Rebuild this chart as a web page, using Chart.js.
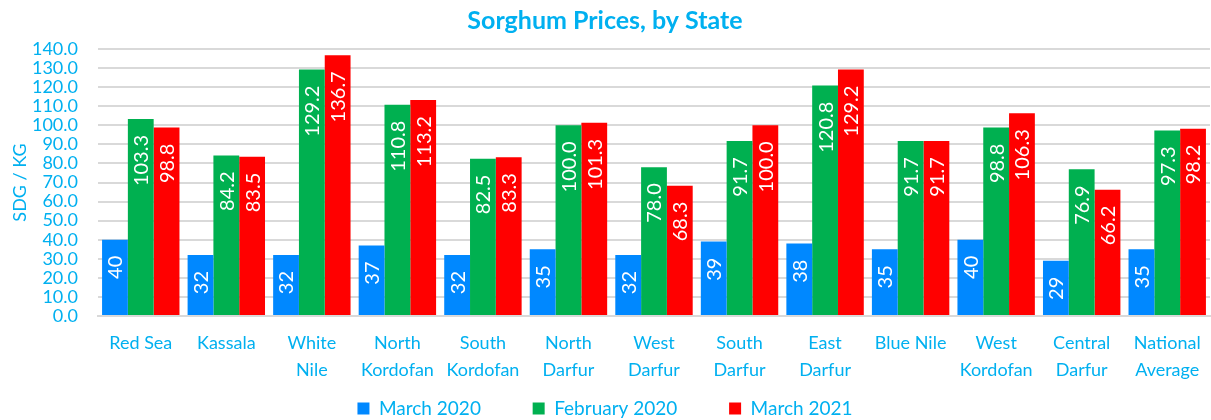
<!DOCTYPE html>
<html>
<head>
<meta charset="utf-8">
<script src="https://cdn.jsdelivr.net/npm/chart.js@4.4.1/dist/chart.umd.min.js"></script>
<style>
  html, body { margin: 0; padding: 0; background: #ffffff; }
  #wrap { width: 1211px; height: 420px; }
</style>
</head>
<body>
<div id="wrap"><canvas id="c" width="1211" height="420"></canvas></div>
<script>
const categories = [
  "Red Sea", "Kassala", ["White", "Nile"], ["North", "Kordofan"], ["South", "Kordofan"],
  ["North", "Darfur"], ["West", "Darfur"], ["South", "Darfur"], ["East", "Darfur"],
  "Blue Nile", ["West", "Kordofan"], ["Central", "Darfur"], ["National", "Average"]
];
const march2020 = [40, 32, 32, 37, 32, 35, 32, 39, 38, 35, 40, 29, 35];
const february2020 = [103.3, 84.2, 129.2, 110.8, 82.5, 100.0, 78.0, 91.7, 120.8, 91.7, 98.8, 76.9, 97.3];
const march2021 = [98.8, 83.5, 136.7, 113.2, 83.3, 101.3, 68.3, 100.0, 129.2, 91.7, 106.3, 66.2, 98.2];
const seriesNames = ["March 2020", "February 2020", "March 2021"];
const labelDecimals = [0, 1, 1];

const TXT = "#00B0F0";
const FONT = "Lato, 'Open Sans', sans-serif";

const barLabels = {
  id: "barLabels",
  afterDatasetsDraw(chart) {
    const ctx = chart.ctx;
    ctx.save();
    ctx.fillStyle = "#ffffff";
    ctx.font = "20px " + FONT;
    chart.data.datasets.forEach((ds, di) => {
      const meta = chart.getDatasetMeta(di);
      meta.data.forEach((el, i) => {
        const v = ds.data[i];
        const txt = v.toFixed(labelDecimals[di]);
        ctx.save();
        ctx.translate(el.x, el.y + 16);
        ctx.rotate(-Math.PI / 2);
        ctx.textAlign = "right";
        ctx.textBaseline = "middle";
        ctx.fillText(txt, 0, 1);
        ctx.restore();
      });
    });
    ctx.restore();
  }
};

new Chart(document.getElementById("c"), {
  type: "bar",
  data: {
    labels: categories,
    datasets: [
      { label: seriesNames[0], data: march2020, backgroundColor: "#0088FF" },
      { label: seriesNames[1], data: february2020, backgroundColor: "#00B050" },
      { label: seriesNames[2], data: march2021, backgroundColor: "#FF0000" }
    ]
  },
  options: {
    responsive: false,
    animation: false,
    devicePixelRatio: 1,
    layout: { padding: { left: 0, right: 1, top: 0, bottom: -8 } },
    datasets: { bar: { categoryPercentage: 0.905, barPercentage: 1.0 } },
    plugins: {
      title: {
        display: true,
        text: "Sorghum Prices, by State",
        color: TXT,
        font: { family: FONT, size: 25, weight: "bold", lineHeight: 1.2 },
        padding: { top: 6, bottom: 13 }
      },
      legend: {
        position: "bottom",
        labels: {
          color: TXT,
          font: { family: FONT, size: 19 },
          boxWidth: 12,
          boxHeight: 12,
          padding: 9,
          generateLabels(chart) {
            const items = Chart.defaults.plugins.legend.labels.generateLabels(chart);
            items.forEach((it, i) => {
              if (i < items.length - 1) it.text = it.text + "\u2003\u2003\u2003";
            });
            return items;
          }
        }
      },
      tooltip: { enabled: false }
    },
    scales: {
      x: {
        grid: { display: false },
        border: { display: true, color: "#D9D9D9", width: 2 },
        ticks: {
          color: TXT,
          font: { family: FONT, size: 18, lineHeight: 1.5 },
          maxRotation: 0,
          autoSkip: false,
          padding: 6
        }
      },
      y: {
        min: 0,
        max: 140,
        afterFit(scale) { scale.width = 98; },
        grid: { color: "#D9D9D9", lineWidth: 2, drawTicks: false },
        border: { display: false },
        ticks: {
          stepSize: 10,
          autoSkip: false,
          color: TXT,
          font: { family: FONT, size: 18 },
          padding: 20,
          callback: (v) => Number(v).toFixed(1)
        },
        title: {
          display: true,
          text: "SDG / KG",
          color: TXT,
          font: { family: FONT, size: 18 },
          padding: { top: 9, bottom: 0 }
        }
      }
    }
  },
  plugins: [barLabels]
});
</script>
</body>
</html>
